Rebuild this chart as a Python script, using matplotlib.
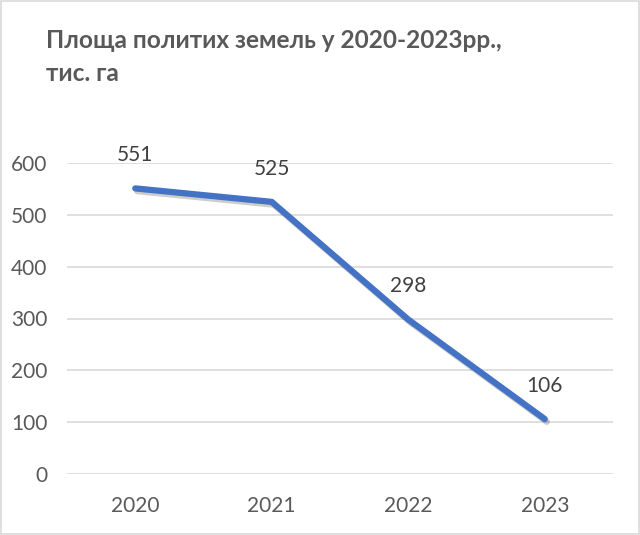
import matplotlib.pyplot as plt
import matplotlib.patheffects as pe
from matplotlib.patches import Rectangle

# Data
years = ['2020', '2021', '2022', '2023']
area = [551, 525, 298, 106]
yticks = [0, 100, 200, 300, 400, 500, 600]
title_lines = ['Площа политих земель у 2020-2023рр.,', 'тис. га']

plt.rcParams['font.family'] = ['Lato', 'DejaVu Sans']

fig = plt.figure(figsize=(6.4, 5.35), dpi=100)
ax = fig.add_axes([67 / 640, 1 - 474 / 535, 546 / 640, 311 / 535])

x = list(range(len(years)))
ax.plot(x, area, color='#4472C4', lw=4.5, solid_capstyle='round',
        solid_joinstyle='round', zorder=3,
        path_effects=[pe.SimpleLineShadow(offset=(1.5, -2), shadow_color='#000000', alpha=0.2),
                      pe.Normal()])

for xi, v in zip(x, area):
    ax.annotate(str(v), (xi, v), xytext=(0, 24), textcoords='offset points',
                ha='center', va='center', fontsize=15, color='#404040',
                annotation_clip=False)

ax.set_xlim(-0.5, len(years) - 0.5)
ax.set_ylim(0, 600)
ax.set_xticks(x)
ax.set_xticklabels(years)
ax.set_yticks(yticks)
ax.tick_params(length=0, labelsize=15, colors='#595959')
ax.tick_params(axis='x', pad=16)
ax.tick_params(axis='y', pad=14)
ax.grid(axis='y', color='#D9D9D9', lw=1.2)
ax.set_axisbelow(True)
for s in ax.spines.values():
    s.set_visible(False)

fig.text(46 / 640, 1 - 48 / 535, title_lines[0], fontsize=17.6,
         fontweight='bold', color='#595959', ha='left', va='baseline')
fig.text(46 / 640, 1 - 81 / 535, title_lines[1], fontsize=17.6,
         fontweight='bold', color='#595959', ha='left', va='baseline')

fig.patches.append(Rectangle((0.002, 0.002), 0.996, 0.996, transform=fig.transFigure,
                             fill=False, ec='#D9D9D9', lw=1.2))

fig.savefig('out.png', dpi=100)
